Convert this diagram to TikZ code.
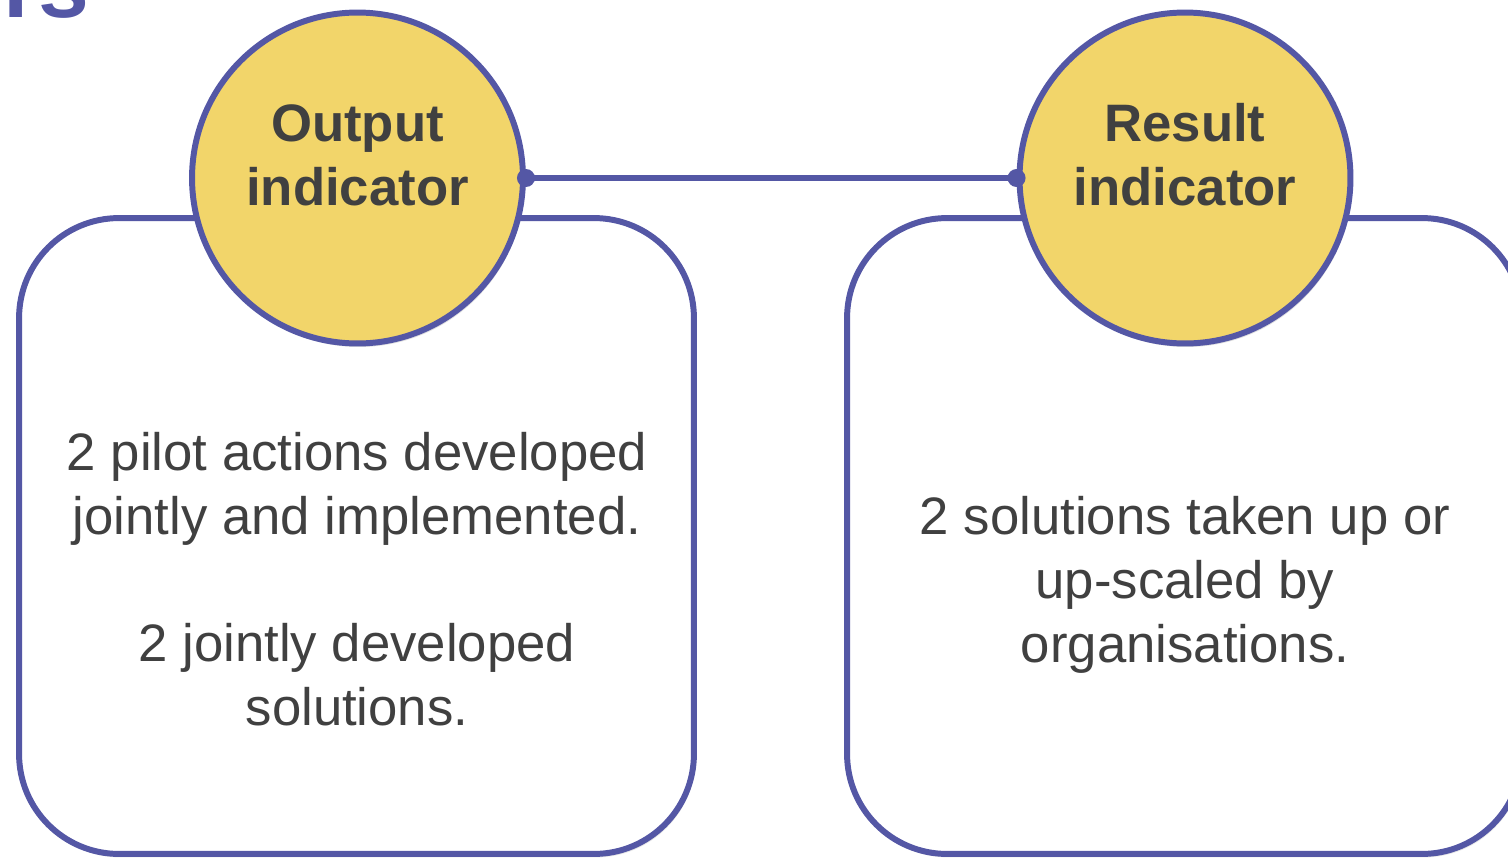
\documentclass[tikz,border=0pt]{standalone}
\usepackage{fontspec}
\setmainfont{Liberation Sans}
\usepackage{tikz}
\usetikzlibrary{positioning, shapes, shadows}
\definecolor{indblue}{RGB}{84,87,165}
\definecolor{indyellow}{RGB}{242,213,106}
\definecolor{indtext}{RGB}{64,64,64}
\tikzset{
  indbox/.style={draw=indblue, line width=3.4pt, fill=white, rectangle, rounded corners=2cm,
    minimum width=13.5cm, minimum height=12.72cm, inner sep=0pt,
    drop shadow={opacity=0.2, shadow xshift=1pt, shadow yshift=-2pt}},
  indcirc/.style={draw=indblue, line width=3.4pt, fill=indyellow, circle,
    minimum size=6.62cm, inner sep=0pt,
    drop shadow={opacity=0.25, shadow xshift=1pt, shadow yshift=-2pt}},
  indtitle/.style={text=indtext, font=\fontsize{30}{36.3}\selectfont\bfseries, align=center},
  indbody/.style={text=indtext, font=\fontsize{30}{36.3}\selectfont, align=center},
  inddot/.style={fill=indblue, circle, inner sep=0pt, minimum size=0.36cm}
}
\begin{document}
\begin{tikzpicture}[x=0.02cm,y=-0.02cm]
\useasboundingbox (0,0) rectangle (1508,859);
\node[anchor=base east, inner sep=0pt, text=indblue, font=\fontsize{52}{60}\selectfont\bfseries] (head) at (90,17) {rs};

\node[indbox] (outbox) at (356.5,536) {};
\node[indbox] (resbox) at (1184.5,536) {};

\node[indcirc] (outcirc) at (357.5,178) {};
\node[indcirc] (rescirc) at (1185,178) {};

\draw[indblue, line width=3.4pt] (outcirc.east) -- (rescirc.west);
\node[inddot] (outdot) at (outcirc.east) {};
\node[inddot] (resdot) at (rescirc.west) {};

\node[indtitle] (outtitle) at (357.5,155) {Output\\indicator};
\node[indtitle] (restitle) at (1185,155) {Result\\indicator};

\node[indbody] (outtext) at (357,579) {2 pilot actions developed\\jointly and implemented.\\[36.3pt]2 jointly developed\\solutions.};
\node[indbody] (restext) at (1185,585) {2 solutions taken up or\\up-scaled by\\organisations.};
\end{tikzpicture}
\end{document}
